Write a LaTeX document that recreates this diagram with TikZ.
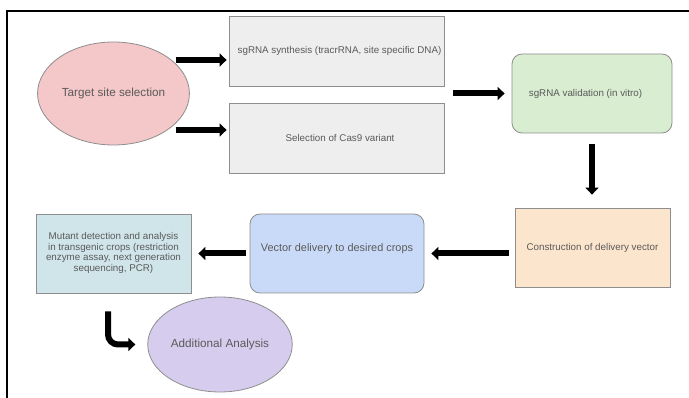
\documentclass[tikz,border=0pt]{standalone}
\usepackage{fontspec}
\setmainfont{Liberation Sans}
\usepackage{tikz}
\usetikzlibrary{arrows.meta, calc, shapes.geometric}
\definecolor{pinkFill}{HTML}{F4C7C8}
\definecolor{grayFill}{HTML}{EEEEEE}
\definecolor{greenFill}{HTML}{D9EDD1}
\definecolor{orangeFill}{HTML}{FCE5CD}
\definecolor{blueFill}{HTML}{C9DAF8}
\definecolor{tealFill}{HTML}{D0E5EA}
\definecolor{purpleFill}{HTML}{D6CDEE}
\definecolor{edgeGray}{HTML}{8E8E8E}
\definecolor{txtGray}{HTML}{5A5A5A}
\tikzset{
  basebox/.style={draw=edgeGray, line width=0.8pt, text=txtGray, inner sep=2pt,
    font=\fontsize{9.8}{10.5}\selectfont},
  stepbox/.style={basebox, rectangle, minimum width=#1, minimum height=79pt},
  stepbox/.default=155pt,
  roundbox/.style={basebox, rectangle, rounded corners=10pt, minimum height=79pt},
  bubble/.style={basebox, ellipse, font=\fontsize{11.7}{13}\selectfont},
  bigarrow/.style={line width=6pt, -{Triangle[length=7pt, width=13pt]}}
}
\begin{document}
\begin{tikzpicture}[x=1pt, y=-1pt]
  \useasboundingbox (0,0) rectangle (689,398);
  % frame
  \draw [line width=1.3pt] (7,398) -- (7,11) -- (689,11);

  \node [bubble, fill=pinkFill, minimum width=139pt, minimum height=103pt] (target) at (113.5,93.5) {Target site selection};
  \node [stepbox=215pt, fill=grayFill, minimum height=70pt] (synth) at (336.5,51) {\hspace*{6pt}sgRNA synthesis (tracrRNA, site specific DNA)};
  \node [stepbox=215pt, fill=grayFill, minimum height=70pt] (cas9) at (336.5,138) {\hspace*{7pt}Selection of Cas9 variant};
  \node [roundbox, fill=greenFill, minimum width=160pt] (valid) at (592,93.5) {sgRNA validation (in vitro)\hspace*{13pt}};
  \node [stepbox, fill=orangeFill] (construct) at (592.5,247.5) {Construction of delivery vector};
  \node [roundbox, fill=blueFill, minimum width=174pt, text depth=11pt, font=\fontsize{10.9}{12}\selectfont] (deliver) at (337,253.5) {Vector delivery to desired crops};
  \node [stepbox, fill=tealFill] (mutant) at (113.5,253.5) {\begin{tabular}{@{}c@{}}Mutant detection and analysis\\in transgenic crops (restriction\\enzyme assay, next generation\\sequencing, PCR)\end{tabular}};
  \node [bubble, fill=purpleFill, minimum width=120pt, minimum height=95pt] (addl) at (220,344.5) {Additional Analysis};

  % arrows
  \draw [bigarrow] ([xshift=-53pt, yshift=-9pt]synth.west) -- ([xshift=-2pt, yshift=-9pt]synth.west);
  \draw [bigarrow] ([xshift=-53pt, yshift=8pt]cas9.west) -- ([xshift=-2pt, yshift=8pt]cas9.west);
  \draw [bigarrow, shorten <=9pt, shorten >=7pt] (synth.east |- valid.west) -- (valid.west);
  \draw [bigarrow, shorten <=11pt, shorten >=13pt] (valid.south) -- (valid.south |- construct.north);
  \draw [bigarrow, shorten <=6pt, shorten >=7pt] (construct.west |- deliver.east) -- (deliver.east);
  \draw [bigarrow, shorten <=4pt, shorten >=7pt] (deliver.west) -- (mutant.east);
  \draw [bigarrow, rounded corners=10pt] ([xshift=-5.5pt, yshift=-18pt]mutant.south) |- ([xshift=-12pt]addl.west);
\end{tikzpicture}
\end{document}
